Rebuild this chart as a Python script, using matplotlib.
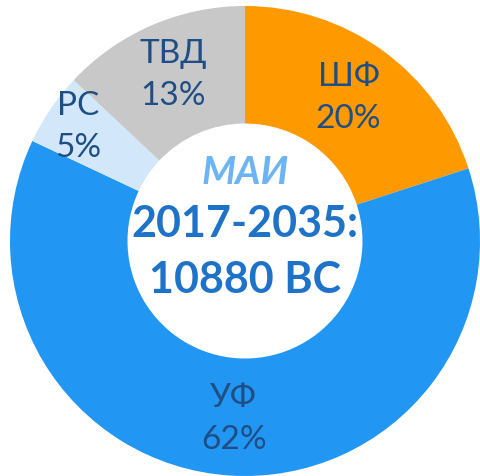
import numpy as np
import matplotlib
matplotlib.use('Agg')
import matplotlib.pyplot as plt

# Доли парка по типам ВС (2017-2035)
labels = ['ШФ', 'УФ', 'РС', 'ТВД']
shares = [20, 62, 5, 13]
colors = ['#FF9900', '#2196F3', '#D2E8FA', '#C8C8C8']
label_dist = [0.75, 0.76, 0.86, 0.77]

plt.rcParams['font.family'] = ['Lato', 'DejaVu Sans']

fig = plt.figure(figsize=(4.81, 4.76), dpi=100)
ax = fig.add_axes([0, 0, 1, 1])

wedges, _ = ax.pie(shares, colors=colors, startangle=90, counterclock=False,
                   radius=1.0, wedgeprops=dict(width=0.5, linewidth=0))

# подписи секторов
for w, name, val, d in zip(wedges, labels, shares, label_dist):
    ang = np.deg2rad((w.theta1 + w.theta2) / 2)
    x, y = d * np.cos(ang), d * np.sin(ang)
    ax.text(x, y, f'{name}\n{val}%', ha='center', va='center', fontsize=24,
            color='#1F4E85', linespacing=1.5)

# логотип и итог в центре
ax.text(0, 0.29, 'МАИ', ha='center', va='center', fontsize=28, fontweight='bold',
        fontstyle='italic', color='#6DB4F2')
ax.text(0, -0.047, '2017-2035:\n10880 ВС', ha='center', va='center', fontsize=31,
        fontweight='bold', color='#1E73C8', linespacing=1.5)

ax.set_xlim(-245 / 235, 236 / 235)
ax.set_ylim(-1.0, 241 / 235)
ax.set_aspect('equal')
ax.axis('off')

fig.savefig('out.png', dpi=100, facecolor='white')
